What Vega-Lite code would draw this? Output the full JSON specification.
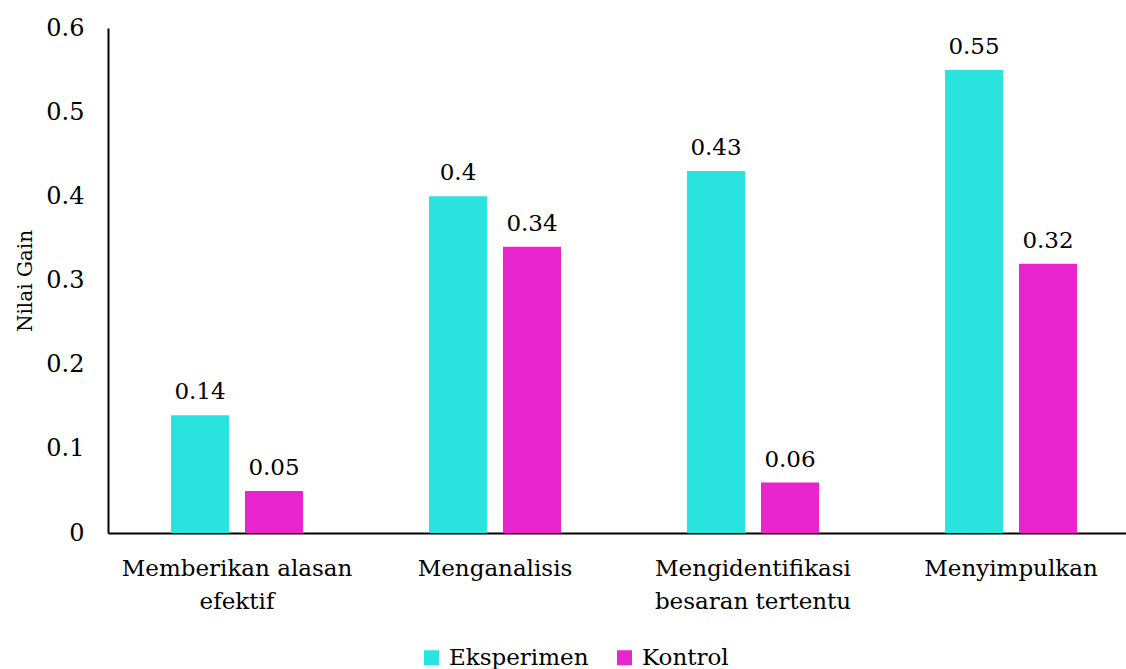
{
  "$schema": "https://vega.github.io/schema/vega-lite/v6.json",
  "autosize": "none",
  "width": 1018,
  "height": 505,
  "padding": {"left": 108, "top": 28, "right": 0, "bottom": 136},
  "background": "white",
  "config": {
    "font": "DejaVu Serif",
    "view": {"stroke": null}
  },
  "data": {
    "values": [
      {"kategori": "Memberikan alasan efektif", "kelompok": "Eksperimen", "nilai": 0.14},
      {"kategori": "Memberikan alasan efektif", "kelompok": "Kontrol", "nilai": 0.05},
      {"kategori": "Menganalisis", "kelompok": "Eksperimen", "nilai": 0.4},
      {"kategori": "Menganalisis", "kelompok": "Kontrol", "nilai": 0.34},
      {"kategori": "Mengidentifikasi besaran tertentu", "kelompok": "Eksperimen", "nilai": 0.43},
      {"kategori": "Mengidentifikasi besaran tertentu", "kelompok": "Kontrol", "nilai": 0.06},
      {"kategori": "Menyimpulkan", "kelompok": "Eksperimen", "nilai": 0.55},
      {"kategori": "Menyimpulkan", "kelompok": "Kontrol", "nilai": 0.32}
    ]
  },
  "encoding": {
    "x": {
      "field": "kategori",
      "type": "nominal",
      "sort": null,
      "scale": {"range": [0, 1032], "paddingInner": 0, "paddingOuter": 0},
      "axis": {
        "title": null,
        "labelAngle": 0,
        "labelFont": "DejaVu Serif",
        "labelFontSize": 23,
        "labelColor": "black",
        "labelPadding": 24,
        "labelBaseline": "top",
        "labelLineHeight": 33,
        "labelLimit": 300,
        "ticks": false,
        "domainColor": "black",
        "domainWidth": 2,
        "labelExpr": "datum.value == 'Memberikan alasan efektif' ? ['Memberikan alasan', 'efektif'] : datum.value == 'Mengidentifikasi besaran tertentu' ? ['Mengidentifikasi', 'besaran tertentu'] : datum.value"
      }
    },
    "xOffset": {
      "field": "kelompok",
      "type": "nominal",
      "scale": {"paddingInner": 0.216, "paddingOuter": 0.851}
    },
    "y": {
      "field": "nilai",
      "type": "quantitative",
      "scale": {"domain": [0, 0.6], "nice": false},
      "axis": {
        "title": "Nilai Gain",
        "titleFont": "DejaVu Serif",
        "titleFontSize": 20,
        "titleFontWeight": "normal",
        "titleColor": "black",
        "titlePadding": 10,
        "values": [0, 0.1, 0.2, 0.3, 0.4, 0.5, 0.6],
        "format": ".1~f",
        "labelFont": "DejaVu Serif",
        "labelFontSize": 24,
        "labelColor": "black",
        "labelPadding": 24,
        "ticks": false,
        "grid": false,
        "domainColor": "black",
        "domainWidth": 2
      }
    }
  },
  "layer": [
    {
      "mark": {"type": "bar"},
      "encoding": {
        "color": {
          "field": "kelompok",
          "type": "nominal",
          "scale": {"domain": ["Eksperimen", "Kontrol"], "range": ["#2AE3DF", "#E825CC"]},
          "legend": {
            "title": null,
            "orient": "none",
            "direction": "horizontal",
            "legendX": 312,
            "legendY": 618,
            "symbolType": "square",
            "symbolSize": 225,
            "symbolStrokeWidth": 0,
            "symbolOpacity": 1,
            "labelFont": "DejaVu Serif",
            "labelFontSize": 23,
            "labelColor": "black",
            "labelOffset": 6,
            "columnPadding": 24
          }
        }
      }
    },
    {
      "mark": {"type": "text", "baseline": "alphabetic", "dy": -16, "fontSize": 23, "font": "DejaVu Serif", "color": "black"},
      "encoding": {
        "text": {"field": "nilai", "type": "quantitative"}
      }
    }
  ]
}
